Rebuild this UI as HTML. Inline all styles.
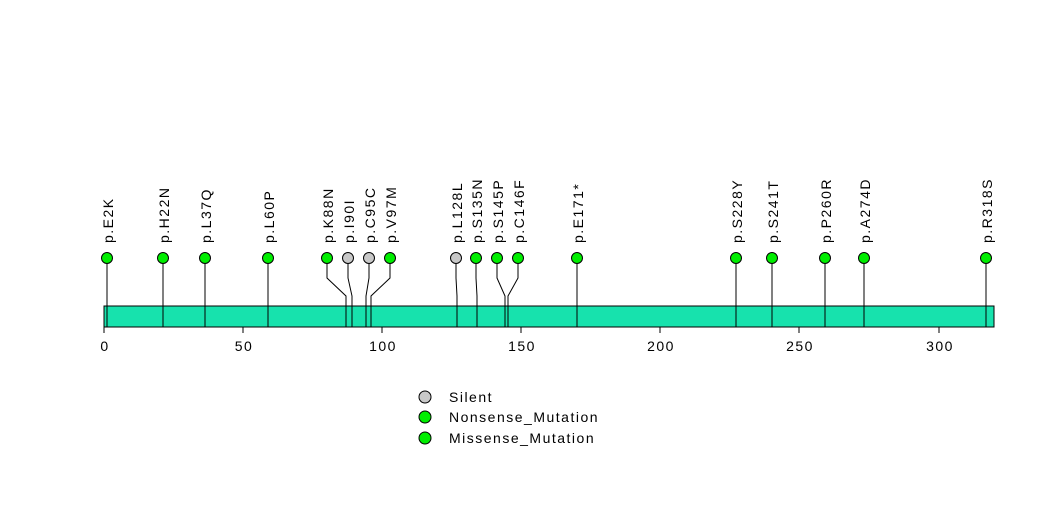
<!DOCTYPE html>
<html><head><meta charset="utf-8"><style>html,body{margin:0;padding:0;background:#fff}svg{display:block}</style></head>
<body>
<svg width="1047" height="524" viewBox="0 0 1047 524" xmlns="http://www.w3.org/2000/svg" font-family="Liberation Sans, sans-serif">
<rect x="0" y="0" width="1047" height="524" fill="#fff"/>
<rect x="104" y="306" width="890" height="21" fill="#17e2ad" stroke="#000" stroke-width="1"/>
<g stroke="#000" stroke-width="1" fill="none">
<line x1="104" y1="327" x2="939" y2="327"/>
<line x1="104" y1="327" x2="104" y2="333"/><line x1="243" y1="327" x2="243" y2="333"/>
<line x1="382" y1="327" x2="382" y2="333"/><line x1="521" y1="327" x2="521" y2="333"/>
<line x1="660" y1="327" x2="660" y2="333"/><line x1="799" y1="327" x2="799" y2="333"/>
<line x1="939" y1="327" x2="939" y2="333"/>
<polyline points="107,258 107,327"/>
<polyline points="163,258 163,327"/>
<polyline points="205,258 205,327"/>
<polyline points="268,258 268,327"/>
<polyline points="327,258 327,278 346,296 346,327"/>
<polyline points="348,258 348,278 352,296 352,327"/>
<polyline points="369,258 369,278 366,296 366,327"/>
<polyline points="390,258 390,278 371,296 371,327"/>
<polyline points="456,258 456,278 457,296 457,327"/>
<polyline points="476,258 476,278 477,296 477,327"/>
<polyline points="497,258 497,278 505,296 505,327"/>
<polyline points="518,258 518,278 508,296 508,327"/>
<polyline points="577,258 577,327"/>
<polyline points="736,258 736,327"/>
<polyline points="772,258 772,327"/>
<polyline points="825,258 825,327"/>
<polyline points="864,258 864,327"/>
<polyline points="986,258 986,327"/>
</g>
<g stroke="#000" stroke-width="1">
<circle cx="107" cy="258" r="5.5" fill="#00ee00"/>
<circle cx="163" cy="258" r="5.5" fill="#00ee00"/>
<circle cx="205" cy="258" r="5.5" fill="#00ee00"/>
<circle cx="268" cy="258" r="5.5" fill="#00ee00"/>
<circle cx="327" cy="258" r="5.5" fill="#00ee00"/>
<circle cx="348" cy="258" r="5.5" fill="#c8c8c8"/>
<circle cx="369" cy="258" r="5.5" fill="#c8c8c8"/>
<circle cx="390" cy="258" r="5.5" fill="#00ee00"/>
<circle cx="456" cy="258" r="5.5" fill="#c8c8c8"/>
<circle cx="476" cy="258" r="5.5" fill="#00ee00"/>
<circle cx="497" cy="258" r="5.5" fill="#00ee00"/>
<circle cx="518" cy="258" r="5.5" fill="#00ee00"/>
<circle cx="577" cy="258" r="5.5" fill="#00ee00"/>
<circle cx="736" cy="258" r="5.5" fill="#00ee00"/>
<circle cx="772" cy="258" r="5.5" fill="#00ee00"/>
<circle cx="825" cy="258" r="5.5" fill="#00ee00"/>
<circle cx="864" cy="258" r="5.5" fill="#00ee00"/>
<circle cx="986" cy="258" r="5.5" fill="#00ee00"/>
<circle cx="425" cy="397" r="6" fill="#c8c8c8"/>
<circle cx="425" cy="417" r="6" fill="#00ee00"/>
<circle cx="425" cy="438" r="6" fill="#00ee00"/>
</g>
<g font-size="14" fill="#000" letter-spacing="1.5">
<text transform="translate(113,243) rotate(-90)">p.E2K</text>
<text transform="translate(169,243) rotate(-90)">p.H22N</text>
<text transform="translate(211,243) rotate(-90)">p.L37Q</text>
<text transform="translate(274,243) rotate(-90)">p.L60P</text>
<text transform="translate(333,243) rotate(-90)">p.K88N</text>
<text transform="translate(354,243) rotate(-90)">p.I90I</text>
<text transform="translate(375,243) rotate(-90)">p.C95C</text>
<text transform="translate(396,243) rotate(-90)">p.V97M</text>
<text transform="translate(462,243) rotate(-90)">p.L128L</text>
<text transform="translate(482,243) rotate(-90)">p.S135N</text>
<text transform="translate(503,243) rotate(-90)">p.S145P</text>
<text transform="translate(524,243) rotate(-90)">p.C146F</text>
<text transform="translate(583,243) rotate(-90)">p.E171*</text>
<text transform="translate(742,243) rotate(-90)">p.S228Y</text>
<text transform="translate(778,243) rotate(-90)">p.S241T</text>
<text transform="translate(831,243) rotate(-90)">p.P260R</text>
<text transform="translate(870,243) rotate(-90)">p.A274D</text>
<text transform="translate(992,243) rotate(-90)">p.R318S</text>
</g>
<g font-size="14" fill="#000" text-anchor="middle" letter-spacing="1.5">
<text x="105" y="351">0</text><text x="244" y="351">50</text><text x="383" y="351">100</text>
<text x="522" y="351">150</text><text x="661" y="351">200</text><text x="800" y="351">250</text>
<text x="940" y="351">300</text>
</g>
<g font-size="14" fill="#000" letter-spacing="1.5">
<text x="449" y="402">Silent</text>
<text x="449" y="422">Nonsense_Mutation</text>
<text x="449" y="443">Missense_Mutation</text>
</g>
</svg>
</body></html>
